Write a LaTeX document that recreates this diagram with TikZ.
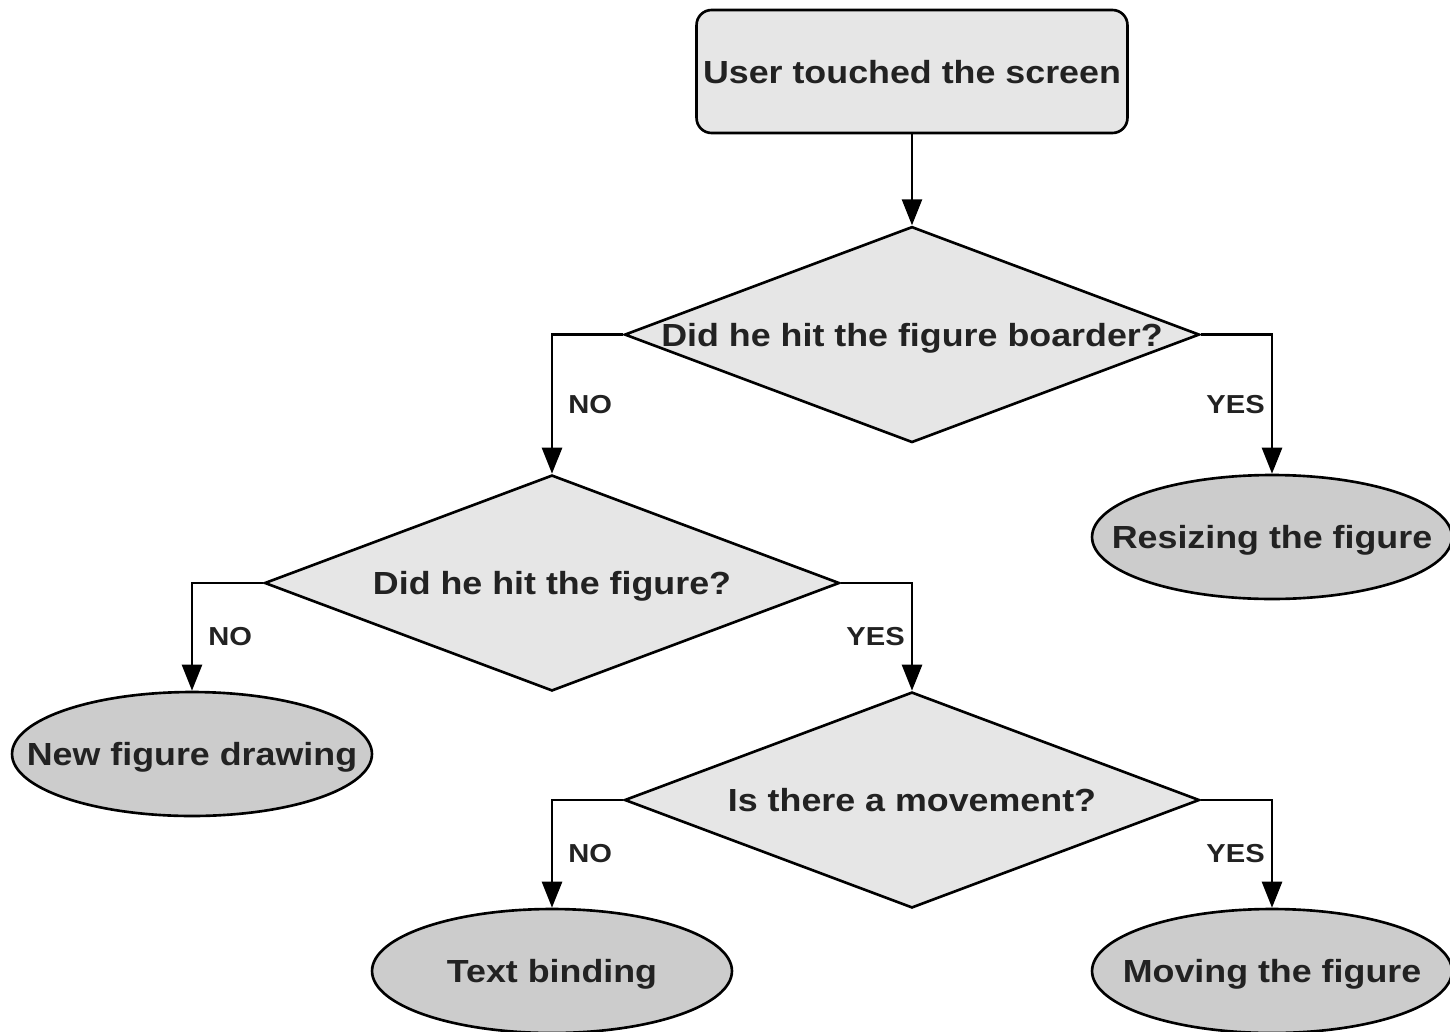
\documentclass[tikz,border=0pt]{standalone}
\usepackage{fontspec}
\setmainfont{Liberation Sans}[FakeStretch=1.12]
\usetikzlibrary{arrows.meta, shapes.geometric, positioning}
\definecolor{boxgray}{HTML}{E6E6E6}
\definecolor{endgray}{HTML}{CCCCCC}
\definecolor{txt}{HTML}{222222}

\begin{document}
\begin{tikzpicture}[x=0.02cm, y=-0.02cm, line width=1.5pt,
    every node/.style={text=txt, text depth=0pt, font=\fontsize{18.2}{22}\selectfont\bfseries},
    start/.style={draw, fill=boxgray, rounded corners=0.3cm, inner xsep=2pt,
      minimum width=8.62cm, minimum height=2.46cm},
    q/.style={draw, fill=boxgray, diamond, aspect=2.66, inner sep=0pt,
      minimum width=11.5cm, minimum height=4.32cm},
    e/.style={draw, fill=endgray, ellipse, minimum width=7.2cm, minimum height=2.48cm},
    lbl/.style={font=\fontsize{14.8}{17}\selectfont\bfseries, inner sep=0pt},
    arr/.style={-{Triangle[length=0.52cm, width=0.4cm]}}]
        \useasboundingbox (0,0) rectangle (1450,1031);

        \node[start] (touch) at (912,71.5) {User touched the screen};
        \node[q, below=1.82cm of touch] (hitb) {Did he hit the figure boarder?};
        \node[q] (hitf) at (552,583) {Did he hit the figure?};
        \node[q] (move) at (912,800) {Is there a movement?};

        \node[e, label=center:{Resizing the figure}] (resize) at (1272,537) {};
        \node[e, label=center:{New figure drawing}] (newfig) at (192,754) {};
        \node[e, label=center:{Text binding}] (textb) at (552,971) {};
        \node[e, label=center:{Moving the figure}] (movefig) at (1272,971) {};

        \draw[arr] (touch) -- (hitb);
        \foreach \a/\b/\c in {hitb/hitf/resize, hitf/newfig/move, move/textb/movefig}
        {
          \draw[arr] (\a.west) -| node[lbl, pos=0.75, right=0.3cm]{NO} (\b.north);
          \draw[arr] (\a.east) -| node[lbl, pos=0.75, left=0.12cm]{YES} (\c.north);
        }
      \end{tikzpicture}
\end{document}
